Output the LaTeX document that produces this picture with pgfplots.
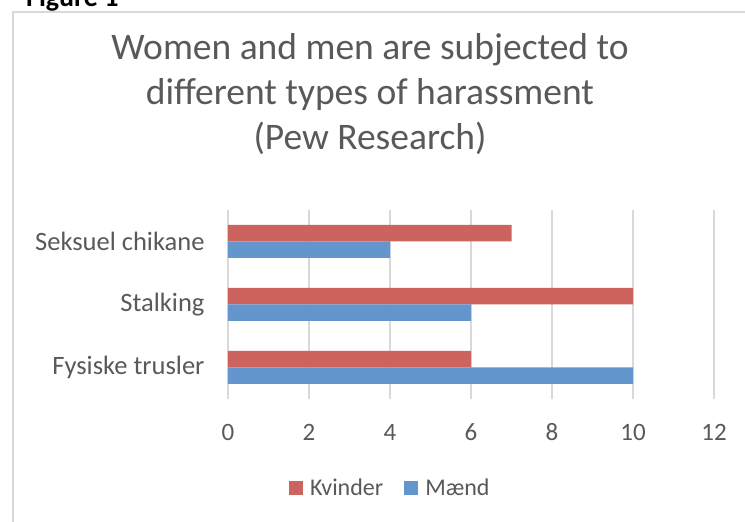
\documentclass[border=0pt]{standalone}
\usepackage{fontspec}
\setmainfont{Carlito}
\usepackage{pgfplots}
\pgfplotsset{compat=1.18}
\definecolor{kred}{RGB}{205,99,94}
\definecolor{mblue}{RGB}{98,150,205}
\definecolor{txt}{RGB}{89,89,89}
\definecolor{gridgray}{RGB}{217,217,217}

\begin{document}
\begin{tikzpicture}[x=1pt,y=1pt]
\useasboundingbox (0,0) rectangle (745,522);
\clip (0,0) rectangle (745,522);
% caption cut off at the top
\node[anchor=base west, inner sep=0, font=\fontsize{28}{32}\selectfont\bfseries] at (26,515) {Figure 1};
% chart frame
\draw[gridgray, line width=1.5pt] (13,-10) -- (13,510) -- (760,510);
% title
\node[anchor=base, inner sep=0, text=txt, font=\fontsize{37.5}{44}\selectfont] at (370,462) {Women and men are subjected to};
\node[anchor=base, inner sep=0, text=txt, font=\fontsize{37.5}{44}\selectfont] at (370,417) {different types of harassment};
\node[anchor=base, inner sep=0, text=txt, font=\fontsize{37.5}{44}\selectfont] at (370,372) {(Pew Research)};

\begin{axis}[
    at={(228pt,123pt)}, anchor=south west,
    scale only axis,
    width=486pt, height=189pt,
    xbar,
    xmin=0, xmax=12,
    ymin=-0.5, ymax=2.5,
    enlargelimits=false,
    xtick={0,2,4,6,8,10,12},
    ytick={0,1,2},
    yticklabels={Fysiske trusler, Stalking, Seksuel chikane},
    bar width=16.5pt,
    axis line style={draw=none},
    major tick length=0pt,
    xmajorgrids,
    grid style={gridgray, line width=1.3pt},
    /pgf/number format/assume math mode=true,
    tick label style={text=txt},
    xticklabel style={font=\fontsize{25}{30}\selectfont, anchor=base, yshift=-42pt},
    yticklabel style={font=\fontsize{26.5}{30}\selectfont, anchor=east, xshift=-20pt},
    legend style={at={(0.334,-0.471)}, anchor=center, draw=none,
        legend columns=2, text=txt, font=\fontsize{24}{28}\selectfont,
        /tikz/every odd column/.append style={column sep=5pt},
        /tikz/every even column/.append style={column sep=19pt}},
    legend image code/.code={\fill[#1] (0pt,-7pt) rectangle (14pt,7pt);},
]
% Kvinder
\addplot[fill=kred, draw=none, bar shift=8.25pt] coordinates {
    (6,0) (10,1) (7,2)
};
% Maend
\addplot[fill=mblue, draw=none, bar shift=-8.25pt] coordinates {
    (10,0) (6,1) (4,2)
};
\legend{Kvinder, Mænd}
\end{axis}
\end{tikzpicture}
\end{document}
